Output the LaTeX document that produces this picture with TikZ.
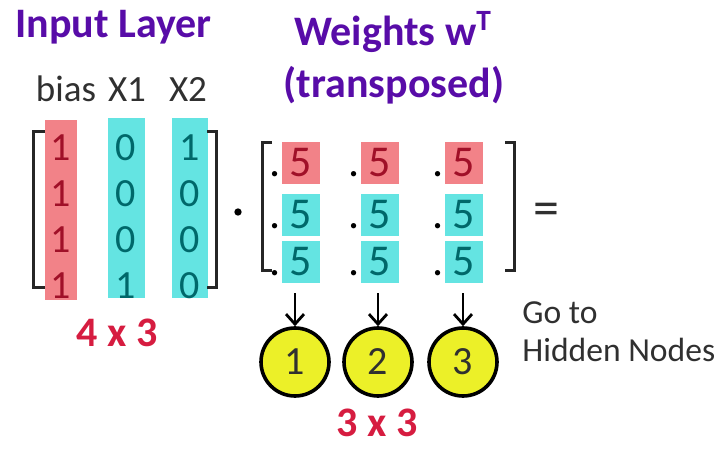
\documentclass[tikz,border=0pt]{standalone}
\usepackage{fontspec}
\setmainfont{Carlito}
\usepackage{tikz}
\usetikzlibrary{arrows.meta,backgrounds}
\definecolor{titlepurple}{RGB}{88,12,168}
\definecolor{biasred}{RGB}{242,130,136}
\definecolor{inputteal}{RGB}{100,228,226}
\definecolor{darkred}{RGB}{160,16,40}
\definecolor{darkteal}{RGB}{0,104,106}
\definecolor{sizered}{RGB}{214,28,64}
\definecolor{nodeyellow}{RGB}{236,240,40}
\definecolor{textgray}{RGB}{48,48,48}
\newcommand{\titlesize}{\fontsize{21}{25}\selectfont}
\newcommand{\labelsize}{\fontsize{18.5}{22}\selectfont}
\newcommand{\notesize}{\fontsize{16.8}{20}\selectfont}
\newcommand{\digitsize}{\fontsize{20}{24}\selectfont}
\newcommand{\weightsize}{\fontsize{22}{26}\selectfont}
\newcommand{\bracketwidth}{1.5pt}

\begin{document}
\begin{tikzpicture}[x=0.5pt,y=-0.5pt,
  title/.style={font=\titlesize\bfseries,text=titlepurple,inner sep=0},
  colname/.style={font=\labelsize,text=textgray,inner sep=0,anchor=base},
  biasdigit/.style={font=\digitsize,text=darkred,inner sep=0},
  inputdigit/.style={font=\digitsize,text=darkteal,inner sep=0},
  wred/.style={font=\weightsize,text=darkred,fill=biasred,inner xsep=4pt,minimum height=20pt},
  wteal/.style={font=\weightsize,text=darkteal,fill=inputteal,inner xsep=4pt,minimum height=20pt},
  wdot/.style={font=\weightsize,text=black,inner sep=0,anchor=base east},
  bracket/.style={line width=\bracketwidth,draw=black!85},
  sizelabel/.style={font=\titlesize\bfseries,text=sizered,inner sep=0},
  hidden/.style={circle,draw=black,line width=1.8pt,fill=nodeyellow,minimum size=34pt,inner sep=0,font=\digitsize,text=textgray},
  feed/.style={line width=1.4pt,-{Straight Barb[length=5pt,width=9pt,line width=1.4pt]},shorten <=5pt}]
\useasboundingbox (0,0) rectangle (722,454);

%titles
\node[title,anchor=base west] (t1) at (15,38) {Input Layer};
\node[title,anchor=base] (t2) at (393,46) {Weights w\textsuperscript{T}};
\node[title,anchor=base] (t3) at (394,98) {(transposed)};
\node[colname] (c1) at (66,102) {bias};
\node[colname] (c2) at (127,102) {X1};
\node[colname] (c3) at (188,102) {X2};

%input columns
\begin{scope}[on background layer]
\fill[biasred] (45,120) rectangle (77,300);
\fill[inputteal] (108,118) rectangle (145,298);
\fill[inputteal] (172,118) rectangle (208,298);
\end{scope}
\node[biasdigit] (i11) at (61,148) {1};
\node[biasdigit] (i21) at (61,194) {1};
\node[biasdigit] (i31) at (61,240) {1};
\node[biasdigit] (i41) at (61,286) {1};
\node[inputdigit] (i12) at (126,148) {0};
\node[inputdigit] (i22) at (126,194) {0};
\node[inputdigit] (i32) at (126,240) {0};
\node[inputdigit] (i42) at (126,286) {1};
\node[inputdigit] (i13) at (190,148) {1};
\node[inputdigit] (i23) at (190,194) {0};
\node[inputdigit] (i33) at (190,240) {0};
\node[inputdigit] (i43) at (190,286) {0};
\draw[bracket] (45,132) -- (33,132) -- (33,287) -- (45,287);
\draw[bracket] (207,132) -- (216,132) -- (216,287) -- (207,287);
\node[sizelabel] (s1) at (117,333) {4 x 3};

\node[circle,fill=black,inner sep=1.3pt] (mul) at (238,212) {};

%weights
\node[wred] (w11) at (301,163) {5};
\node[wred] (w12) at (380,163) {5};
\node[wred] (w13) at (464,163) {5};
\node[wteal] (w21) at (301,215) {5};
\node[wteal] (w22) at (380,215) {5};
\node[wteal] (w23) at (464,215) {5};
\node[wteal] (w31) at (301,262) {5};
\node[wteal] (w32) at (380,262) {5};
\node[wteal] (w33) at (464,262) {5};
\node[wdot] (p11) at (w11.base west) {.};
\node[wdot] (p12) at (w12.base west) {.};
\node[wdot] (p13) at (w13.base west) {.};
\node[wdot] (p21) at (w21.base west) {.};
\node[wdot] (p22) at (w22.base west) {.};
\node[wdot] (p23) at (w23.base west) {.};
\node[wdot] (p31) at (w31.base west) {.};
\node[wdot] (p32) at (w32.base west) {.};
\node[wdot] (p33) at (w33.base west) {.};
\draw[bracket] (272,143) -- (262,143) -- (262,270) -- (272,270);
\draw[bracket] (505,143) -- (514,143) -- (514,270) -- (505,270);

\node[font=\fontsize{26}{30}\selectfont,text=textgray,inner sep=0] (eq) at (546,214) {=};

%hidden nodes
\node[hidden] (h1) at (295,362) {1};
\node[hidden] (h2) at (378,362) {2};
\node[hidden] (h3) at (463,362) {3};
\draw[feed] (h1.north |- w31.south) -- (h1);
\draw[feed] (h2.north |- w32.south) -- (h2);
\draw[feed] (h3.north |- w33.south) -- (h3);
\node[sizelabel] (s2) at (377,423) {3 x 3};

\node[font=\notesize,text=textgray,anchor=west,align=left,inner sep=0] (go) at (522,332) {Go to\\[-1pt]Hidden Nodes};
\end{tikzpicture}
\end{document}
